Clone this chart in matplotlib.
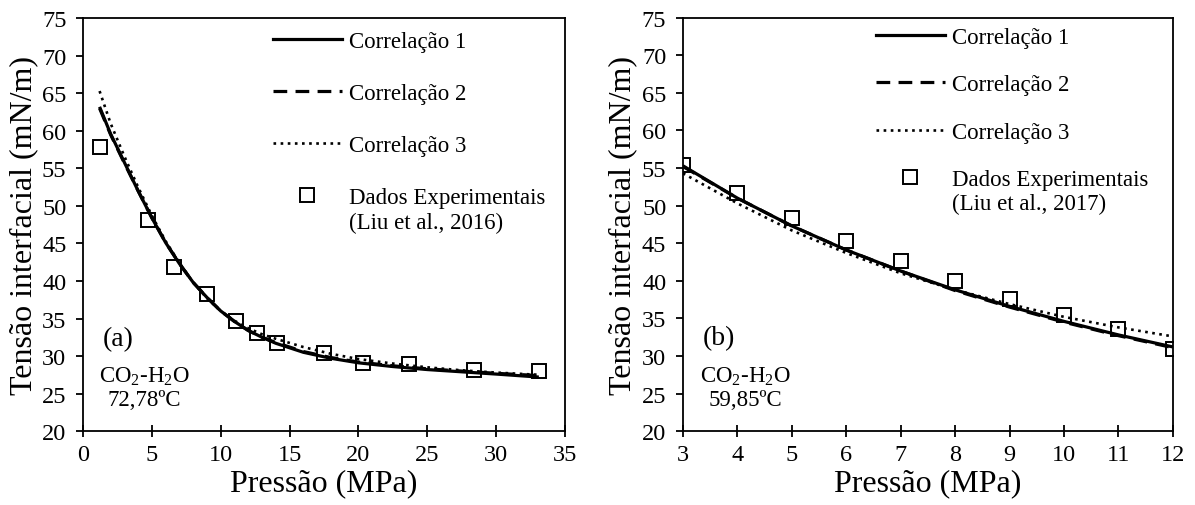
import matplotlib.pyplot as plt
from matplotlib.lines import Line2D

plt.rcParams['font.family'] = ['Liberation Serif', 'DejaVu Serif']
plt.rcParams['font.size'] = 16.5
plt.rcParams['mathtext.fontset'] = 'custom'
plt.rcParams['mathtext.rm'] = 'Liberation Serif'
plt.rcParams['mathtext.it'] = 'Liberation Serif:italic'

# (a) CO2-H2O, 72,78 ºC
p_exp_a = [1.2, 4.7, 6.6, 9.0, 11.1, 12.6, 14.1, 17.5, 20.3, 23.7, 28.4, 33.1]
ift_exp_a = [57.9, 48.1, 41.8, 38.3, 34.7, 33.1, 31.8, 30.4, 29.1, 29.0, 28.2, 28.0]
p_fit_a = [1.2, 2, 3, 4, 5, 6, 7, 8, 9, 10, 11, 12, 13, 14, 16, 18, 20, 22.5, 25, 27.5, 30, 33.1]
corr1_a = [63.2, 59.6, 55.8, 52.0, 48.4, 45.1, 42.3, 39.8, 37.8, 36.0, 34.6, 33.4,
           32.5, 31.7, 30.5, 29.7, 29.1, 28.6, 28.2, 27.9, 27.6, 27.2]
corr2_a = [63.0, 59.5, 55.7, 52.0, 48.4, 45.1, 42.3, 39.8, 37.8, 36.0, 34.6, 33.4,
           32.5, 31.8, 30.6, 29.8, 29.2, 28.7, 28.3, 28.0, 27.7, 27.4]
corr3_a = [65.3, 61.0, 56.6, 52.5, 48.7, 45.3, 42.4, 39.8, 37.7, 36.0, 34.7, 33.7,
           32.9, 32.3, 31.2, 30.3, 29.6, 29.0, 28.5, 28.1, 27.8, 27.5]

# (b) CO2-H2O, 59,85 ºC
p_exp_b = [3, 4, 5, 6, 7, 8, 9, 10, 11, 12]
ift_exp_b = [55.4, 51.7, 48.4, 45.3, 42.6, 40.0, 37.6, 35.5, 33.6, 30.9]
p_fit_b = [3, 4, 5, 6, 7, 8, 9, 10, 11, 12]
corr1_b = [55.3, 51.0, 47.3, 44.1, 41.3, 38.8, 36.6, 34.6, 32.8, 31.2]
corr2_b = [55.2, 51.0, 47.3, 44.1, 41.3, 38.7, 36.5, 34.5, 32.7, 31.1]
corr3_b = [54.3, 50.3, 46.7, 43.7, 41.0, 38.8, 36.9, 35.2, 33.8, 32.6]

labels = ['Correlação 1', 'Correlação 2', 'Correlação 3', 'Dados Experimentais']

fig = plt.figure(figsize=(11.95, 5.06), dpi=100)
ax_a = fig.add_axes([0.0695, 0.146, 0.4033, 0.816])
ax_b = fig.add_axes([0.5715, 0.146, 0.4100, 0.817])


def draw_panel(ax, p_fit, c1, c2, c3, p_exp, ift_exp, ref, tag, temp, xlim, xticks,
               leg_top, leg_space):
    ax.plot(p_fit, c1, color='black', lw=2.3, solid_capstyle='butt')
    ax.plot(p_fit, c2, color='black', lw=2.3, linestyle=(0, (4.3, 2.6)))
    ax.plot(p_fit, c3, color='black', lw=1.9, linestyle=(0, (1, 1.7)))
    ax.plot(p_exp, ift_exp, linestyle='none', marker='s', ms=9.5, mew=1.4,
            mfc='none', mec='black')

    ax.set_xlim(*xlim)
    ax.set_ylim(20, 75)
    ax.set_xticks(xticks)
    ax.set_yticks(range(20, 80, 5))
    for s in ax.spines.values():
        s.set_linewidth(1.3)
    ax.tick_params(axis='both', labelsize=17.5)
    ax.tick_params(axis='x', direction='inout', length=9, width=1.3, pad=5)
    ax.tick_params(axis='y', direction='out', length=5, width=1.3, pad=7)
    ax.set_xlabel('Pressão (MPa)', fontsize=23, labelpad=2)
    ax.set_ylabel('Tensão interfacial (mN/m)', fontsize=23, labelpad=3)

    handles = [Line2D([], [], color='black', lw=2.3),
               Line2D([], [], color='black', lw=2.3, linestyle=(0, (4.3, 2.6))),
               Line2D([], [], color='black', lw=1.9, linestyle=(0, (1, 1.7))),
               Line2D([], [], linestyle='none', marker='s', ms=9.5, mew=1.4,
                      mfc='none', mec='black')]
    leg = ax.legend(handles, labels, loc='upper left', bbox_to_anchor=(0.394, leg_top),
                    frameon=False, handlelength=3.0, handletextpad=0.32,
                    labelspacing=leg_space, borderpad=0, borderaxespad=0)
    # second line of the data label, tucked under "Dados Experimentais"
    ax.annotate(ref, xy=(0, 0), xycoords=leg.get_texts()[3],
                xytext=(0, -10), textcoords='offset points', va='center', ha='left',
                zorder=6)

    ax.text(0.073, 0.225, tag, transform=ax.transAxes, ha='center', va='center',
            fontsize=20)
    ax.text(0.127, 0.133, r'CO$_2$-H$_2$O', transform=ax.transAxes, ha='center', va='center')
    ax.text(0.127, 0.077, temp, transform=ax.transAxes, ha='center', va='center')


draw_panel(ax_a, p_fit_a, corr1_a, corr2_a, corr3_a, p_exp_a, ift_exp_a,
           '(Liu et al., 2016)', '(a)', '72,78ºC', (0, 35), range(0, 40, 5),
           0.968, 1.35)
draw_panel(ax_b, p_fit_b, corr1_b, corr2_b, corr3_b, p_exp_b, ift_exp_b,
           '(Liu et al., 2017)', '(b)', '59,85ºC', (3, 12), range(3, 13),
           0.978, 1.15)

fig.savefig('out.png', dpi=100)
